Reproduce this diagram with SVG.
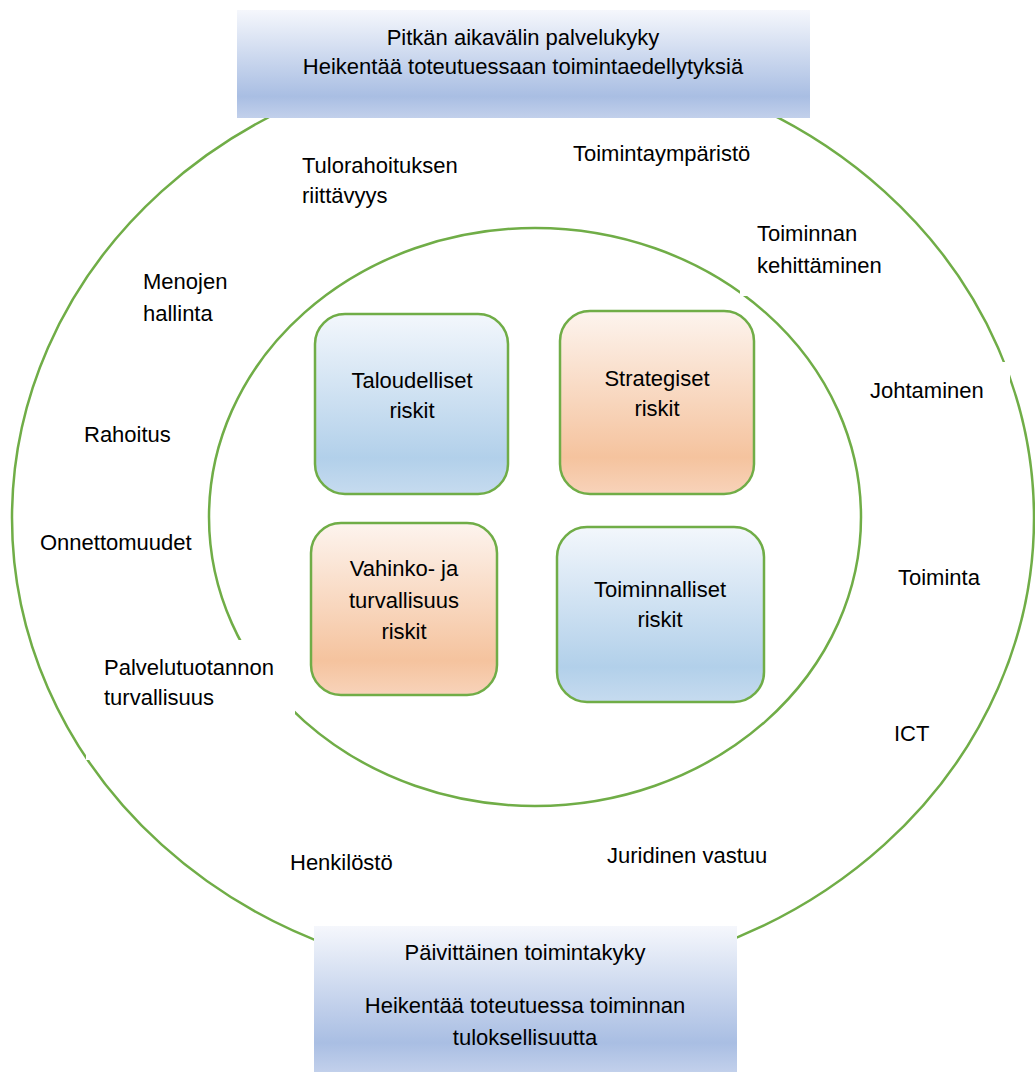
<svg xmlns="http://www.w3.org/2000/svg" width="1035" height="1072" viewBox="0 0 1035 1072">
<defs>
<linearGradient id="gHead" x1="0" y1="0" x2="0" y2="1">
<stop offset="0" stop-color="#f5f7fc"/><stop offset="0.8" stop-color="#a9bee3"/><stop offset="1" stop-color="#c2d0eb"/>
</linearGradient>
<linearGradient id="gBlue" x1="0" y1="0" x2="0" y2="1">
<stop offset="0" stop-color="#f3f7fc"/><stop offset="0.8" stop-color="#b2d0ea"/><stop offset="1" stop-color="#c6dbef"/>
</linearGradient>
<linearGradient id="gOrange" x1="0" y1="0" x2="0" y2="1">
<stop offset="0" stop-color="#fdf4ee"/><stop offset="0.8" stop-color="#f5c39e"/><stop offset="1" stop-color="#f8d3ba"/>
</linearGradient>
<style>
.ring{fill:none;stroke:#70ad47;stroke-width:2.5}
.risk{stroke:#70ad47;stroke-width:2.5}
.t{font-family:"Liberation Sans",Arial,sans-serif;font-size:22px;fill:#000}
.c{text-anchor:middle}
.bg{fill:#fff}
</style>
</defs>
<g id="connectors">
<ellipse class="ring" cx="523" cy="518" rx="511" ry="462"/>
<ellipse class="ring" cx="535" cy="517" rx="326" ry="289"/>
</g>
<rect class="bg" x="86" y="640" width="209" height="120"/>
<rect class="bg" x="740" y="212" width="150" height="84"/>
<rect class="bg" x="860" y="362" width="150" height="60"/>
<g id="head-top">
<rect x="237" y="10" width="573" height="108" fill="url(#gHead)"/>
<text class="t c" x="523" y="45">Pitkän aikavälin palvelukyky</text>
<text class="t c" x="523" y="74">Heikentää toteutuessaan toimintaedellytyksiä</text>
</g>
<g id="head-bottom">
<rect x="314" y="926" width="423" height="146" fill="url(#gHead)"/>
<text class="t c" x="525" y="960">Päivittäinen toimintakyky</text>
<text class="t c" x="525" y="1013">Heikentää toteutuessa toiminnan</text>
<text class="t c" x="525" y="1045">tuloksellisuutta</text>
</g>
<g id="taloudelliset">
<rect class="risk" x="315" y="314" width="193" height="180" rx="30" fill="url(#gBlue)"/>
<text class="t c" x="412" y="388">Taloudelliset</text>
<text class="t c" x="412" y="418">riskit</text>
</g>
<g id="strategiset">
<rect class="risk" x="560" y="311" width="194" height="183" rx="30" fill="url(#gOrange)"/>
<text class="t c" x="657" y="386">Strategiset</text>
<text class="t c" x="657" y="416">riskit</text>
</g>
<g id="vahinko">
<rect class="risk" x="311" y="523" width="186" height="172" rx="30" fill="url(#gOrange)"/>
<text class="t c" x="404" y="576">Vahinko- ja</text>
<text class="t c" x="404" y="608">turvallisuus</text>
<text class="t c" x="404" y="639">riskit</text>
</g>
<g id="toiminnalliset">
<rect class="risk" x="557" y="527" width="207" height="175" rx="30" fill="url(#gBlue)"/>
<text class="t c" x="660" y="597">Toiminnalliset</text>
<text class="t c" x="660" y="627">riskit</text>
</g>
<g id="labels">
<text class="t" x="302" y="173">Tulorahoituksen</text>
<text class="t" x="302" y="203">riittävyys</text>
<text class="t" x="573" y="161">Toimintaympäristö</text>
<text class="t" x="757" y="241">Toiminnan</text>
<text class="t" x="757" y="273">kehittäminen</text>
<text class="t" x="143" y="289">Menojen</text>
<text class="t" x="143" y="321">hallinta</text>
<text class="t" x="870" y="398">Johtaminen</text>
<text class="t" x="84" y="442">Rahoitus</text>
<text class="t" x="40" y="550">Onnettomuudet</text>
<text class="t" x="898" y="585">Toiminta</text>
<text class="t" x="104" y="675">Palvelutuotannon</text>
<text class="t" x="104" y="705">turvallisuus</text>
<text class="t" x="894" y="741">ICT</text>
<text class="t" x="290" y="870">Henkilöstö</text>
<text class="t" x="607" y="863">Juridinen vastuu</text>
</g>
</svg>
